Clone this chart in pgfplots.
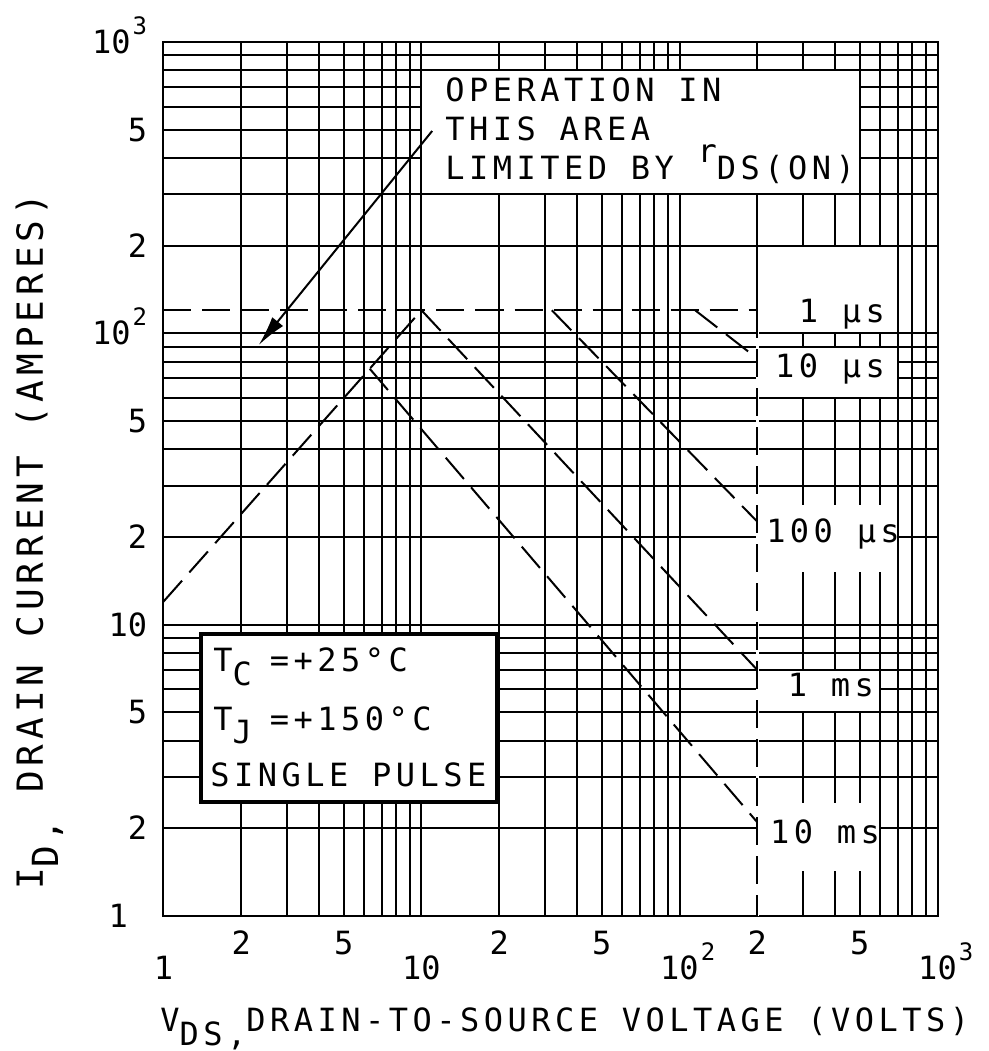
\documentclass[border=0pt]{standalone}
\usepackage{pgfplots}
\pgfplotsset{compat=1.18}
\usetikzlibrary{arrows.meta}
\usepackage{fontspec}
\setmainfont{DejaVu Sans Mono}[LetterSpace=14]
\newfontfamily\tickfont{DejaVu Sans Mono}
% lowered letters for subscripts, raised small digits for exponents
\newcommand\sub[1]{\raisebox{-0.42em}{#1}}
\newcommand\up[1]{\raisebox{12.5pt}{#1}}
\newcommand\ex[1]{\rlap{\hspace{1pt}\raisebox{9.5pt}{\fontsize{12}{12}\selectfont #1}}}
\newcommand\exy[1]{\hspace{1pt}\raisebox{9.5pt}{\fontsize{12}{12}\selectfont #1}}
\tikzset{lbl/.style={font=\fontsize{16}{16}\selectfont, inner sep=0pt},
         pulse/.style={black, line width=1pt, dash pattern=on 14pt off 5.5pt}}
\begin{document}
\begin{tikzpicture}
\begin{axis}[
  scale only axis, width=387pt, height=437pt,
  xmode=log, ymode=log, xmin=1, xmax=1000, ymin=1, ymax=1000,
  clip=false,
  xtick={1,2,5,10,20,50,100,200,500,1000},
  xticklabels={1,\up{2},\up{5},10,\up{2},\up{5},10\ex{2},\up{2},\up{5},10\ex{3}},
  minor xtick={3,4,6,7,8,9,30,40,60,70,80,90,300,400,600,700,800,900},
  ytick={1,2,5,10,20,50,100,200,500,1000},
  yticklabels={1\phantom{0},2,5,10,2,5,10\exy{2},2,5,10\exy{3}},
  minor ytick={3,4,6,7,8,9,30,40,60,70,80,90,300,400,600,700,800,900},
  grid=both,
  major tick length=0pt, minor tick length=0pt,
  major grid style={black, line width=1pt},
  minor grid style={black, line width=1pt},
  axis line style={line width=1pt},
  xticklabel style={anchor=base, inner sep=0pt, yshift=-31.75pt,
                    font=\tickfont\fontsize{16}{16}\selectfont},
  yticklabel style={anchor=base east, inner sep=0pt, xshift=-8pt, yshift=-5.75pt,
                    font=\tickfont\fontsize{16}{16}\selectfont},
]
% white panels behind the notes
\fill[white] (axis cs:10,300) rectangle (axis cs:500,800);
\draw[line width=1pt] (axis cs:10,300) rectangle (axis cs:500,800);
\fill[white] (axis cs:200,100) rectangle (axis cs:700,200);
\draw[line width=1pt] (axis cs:200,100) rectangle (axis cs:700,200);
\fill[white] (axis cs:200,60) rectangle (axis cs:700,90);
\draw[line width=1pt] (axis cs:200,90) -- (axis cs:700,90) -- (axis cs:700,60) -- (axis cs:200,60);
\fill[white] (axis cs:200,15.2) rectangle (axis cs:700,25.8);
\draw[line width=1pt] (axis cs:700,15.2) -- (axis cs:700,25.8);
\fill[white] (axis cs:200,5) rectangle (axis cs:600,7);
\draw[line width=1pt] (axis cs:200,7) -- (axis cs:600,7) -- (axis cs:600,5) -- (axis cs:200,5);
\fill[white] (axis cs:200,1.43) rectangle (axis cs:600,2.45);
\draw[line width=1pt] (axis cs:600,1.43) -- (axis cs:600,2.45);
\filldraw[fill=white, draw=black, line width=2pt] (axis cs:1.4,2.46) rectangle (axis cs:19.7,9.3);
\draw[white, line width=1.6pt] (axis cs:200,1) -- (axis cs:200,120);

% safe operating area boundaries
\addplot[pulse] coordinates {(1,12) (10,120)};        % r_DS(on) limit
\addplot[pulse] coordinates {(1,120) (200,120)};      % 1 us
\addplot[pulse] coordinates {(115,120) (200,82)};     % 10 us
\addplot[pulse] coordinates {(32,120) (200,22.6)};    % 100 us
\addplot[pulse] coordinates {(10,120) (200,7)};       % 1 ms
\addplot[pulse] coordinates {(6.3,75.6) (200,2.1)};   % 10 ms
\addplot[pulse] coordinates {(200,120) (200,1)};      % V_DSS limit

\draw[line width=1pt, -{Latex[length=15pt,width=7pt]}] (axis cs:11,495) -- (axis cs:2.34,91.2);

\node[lbl, anchor=base west] at (rel axis cs:0.3637,0.9317) {OPERATION IN};
\node[lbl, anchor=base west] at (rel axis cs:0.3637,0.8871) {THIS AREA};
\node[lbl, anchor=base west] at (rel axis cs:0.3637,0.8421) {LIMITED BY \raisebox{0.55em}{r}DS(ON)};

\node[lbl, anchor=base] at (rel axis cs:0.8766,0.6796) {1 µs};
\node[lbl, anchor=base] at (rel axis cs:0.8611,0.6156) {10 µs};
\node[lbl, anchor=base] at (rel axis cs:0.8650,0.4268) {100 µs};
\node[lbl, anchor=base] at (rel axis cs:0.8624,0.2506) {1 ms};
\node[lbl, anchor=base] at (rel axis cs:0.8546,0.0835) {10 ms};

\node[lbl, anchor=base west] at (rel axis cs:0.064,0.2795) {T\sub{C}\hspace{9pt}=+25°C};
\node[lbl, anchor=base west] at (rel axis cs:0.064,0.2128) {T\sub{J}\hspace{9pt}=+150°C};
\node[lbl, anchor=base west] at (rel axis cs:0.060,0.1479) {SINGLE PULSE};

\node[lbl, anchor=base west] at (rel axis cs:-0.0045,-0.1327) {V\sub{DS,}DRAIN-TO-SOURCE VOLTAGE (VOLTS)};
\node[lbl, anchor=base west, rotate=90, font=\fontsize{18}{18}\selectfont]
  at (rel axis cs:-0.1557,0.0297) {I\sub{D,} DRAIN CURRENT (AMPERES)};
\end{axis}
\pgfresetboundingbox
\useasboundingbox (-81.75pt,-67.5pt) rectangle (412.75pt,458pt);
\end{tikzpicture}
\end{document}
